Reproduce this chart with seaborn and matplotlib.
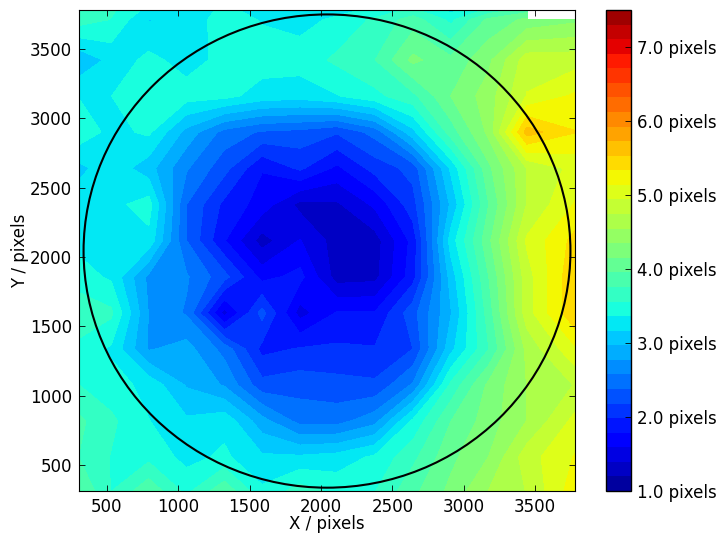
#!/usr/bin/env python3
import numpy as np
import matplotlib
matplotlib.use("Agg")
import matplotlib.pyplot as plt
import seaborn as sns

# sample positions (irregular at the edges)
x_grid = [304, 528, 792, 1056, 1322, 1586, 1852, 2112, 2378, 2644, 2910, 3176, 3444, 3780]
y_grid = [312, 556, 816, 1076, 1336, 1596, 1856, 2117, 2378, 2640, 2900, 3160, 3420, 3710, 3780]

# one row per y_grid entry, bottom to top, values in pixels
row_0312 = [3.95, 3.55, 3.9, 3.5, 3.9, 3.4, 3.65, 3.5, 3.55, 3.9, 4.2, 4.55, 4.75, 5.25]
row_0556 = [3.75, 3.55, 3.5, 3.3, 3.4, 3.2, 3.2, 3.25, 3.4, 3.7, 4.1, 4.35, 4.85, 5.15]
row_0816 = [3.8, 3.6, 3.37, 3.2, 3.3, 2.85, 2.5, 2.5, 2.7, 3.4, 3.95, 4.25, 4.55, 5.0]
row_1076 = [3.56, 3.45, 3.3, 2.95, 2.75, 2.25, 2.3, 2.25, 2.22, 2.6, 3.6, 4.2, 4.55, 4.75]
row_1336 = [3.5, 3.33, 2.75, 2.85, 2.5, 1.92, 2.0, 2.02, 2.0, 2.18, 3.1, 3.75, 4.6, 5.1]
row_1596 = [3.7, 3.6, 2.76, 2.55, 1.5, 2.25, 1.5, 1.8, 1.8, 2.3, 2.95, 3.85, 4.85, 5.5]
row_1856 = [3.45, 3.33, 2.72, 2.6, 2.25, 1.72, 1.85, 1.3, 1.33, 1.9, 3.05, 3.95, 4.85, 5.5]
row_2117 = [3.3, 3.3, 3.3, 2.38, 1.8, 1.3, 1.6, 1.3, 1.3, 1.85, 3.25, 4.1, 4.97, 5.4]
row_2378 = [3.3, 3.3, 3.45, 2.38, 1.93, 1.7, 1.33, 1.36, 1.63, 2.1, 3.0, 3.95, 4.75, 5.15]
row_2640 = [3.1, 3.3, 3.05, 2.6, 2.25, 1.8, 2.02, 1.74, 2.06, 2.25, 3.2, 4.1, 4.75, 5.0]
row_2900 = [3.5, 3.3, 3.4, 2.9, 2.5, 2.35, 2.31, 2.2, 2.45, 3.1, 3.85, 4.4, 5.62, 5.34]
row_3160 = [3.35, 3.36, 3.5, 3.45, 3.42, 3.28, 3.25, 3.35, 3.5, 3.7, 4.15, 4.45, 4.95, 5.17]
row_3420 = [3.0, 3.22, 3.42, 3.28, 3.42, 3.45, 3.45, 3.6, 3.75, 4.2, 4.0, 4.3, 4.85, 4.85]
row_3710 = [3.65, 3.55, 3.15, 3.25, 3.45, 3.35, 3.3, 3.4, 3.6, 3.85, 3.5, 4.0, 4.2, 4.3]
row_3780 = [3.75, 3.6, 3.3, 3.25, 3.4, 3.3, 3.2, 3.3, 3.4, 3.6, 3.3, 3.6, 3.85, np.nan]

scale_ticks = [1, 2, 3, 4, 5, 6, 7]
axis_ticks = [500, 1000, 1500, 2000, 2500, 3000, 3500]
circle_centre = (2042, 2042)
circle_radius = 1706

sns.set_style("ticks", {
    "xtick.direction": "in", "ytick.direction": "in",
    "xtick.top": True, "ytick.right": True,
    "axes.edgecolor": "black", "axes.labelcolor": "black",
    "xtick.color": "black", "ytick.color": "black", "text.color": "black",
})
plt.rcParams["font.family"] = ["DejaVu Sans"]

values = np.ma.masked_invalid(np.array([
    row_0312, row_0556, row_0816, row_1076, row_1336,
    row_1596, row_1856, row_2117, row_2378, row_2640,
    row_2900, row_3160, row_3420, row_3710, row_3780,
]))

fig = plt.figure(figsize=(7.25, 5.42), dpi=100)
ax = fig.add_axes([79 / 725, 1 - 491 / 542, 496 / 725, 481 / 542])
cax = fig.add_axes([606 / 725, 1 - 491 / 542, 24.5 / 725, 481 / 542])

levels = np.linspace(1.0, 7.5, 34)
band_colors = sns.mpl_palette("jet", len(levels) - 1)
filled = ax.contourf(x_grid, y_grid, values, levels=levels, colors=band_colors, corner_mask=False)
filled.set_edgecolor("face")
filled.set_linewidth(0.3)

ax.add_patch(plt.Circle(circle_centre, circle_radius, fill=False, color="black", lw=1.5))
ax.set_axisbelow(False)
ax.set_xlim(x_grid[0], x_grid[-1])
ax.set_ylim(y_grid[0], y_grid[-1])
ax.set_xticks(axis_ticks)
ax.set_yticks(axis_ticks)
ax.tick_params(labelsize=12, length=4, width=0.6, pad=5)
ax.set_xlabel("X / pixels", fontsize=12, labelpad=-1)
ax.set_ylabel("Y / pixels", fontsize=12, labelpad=1)

cbar = fig.colorbar(filled, cax=cax, ticks=scale_ticks, format="%.1f pixels")
cbar.ax.set_axisbelow(False)
cbar.ax.tick_params(labelsize=12, length=4, width=0.6, direction="in", pad=5)
cbar.outline.set_linewidth(1)

fig.savefig("out.png", dpi=100)
